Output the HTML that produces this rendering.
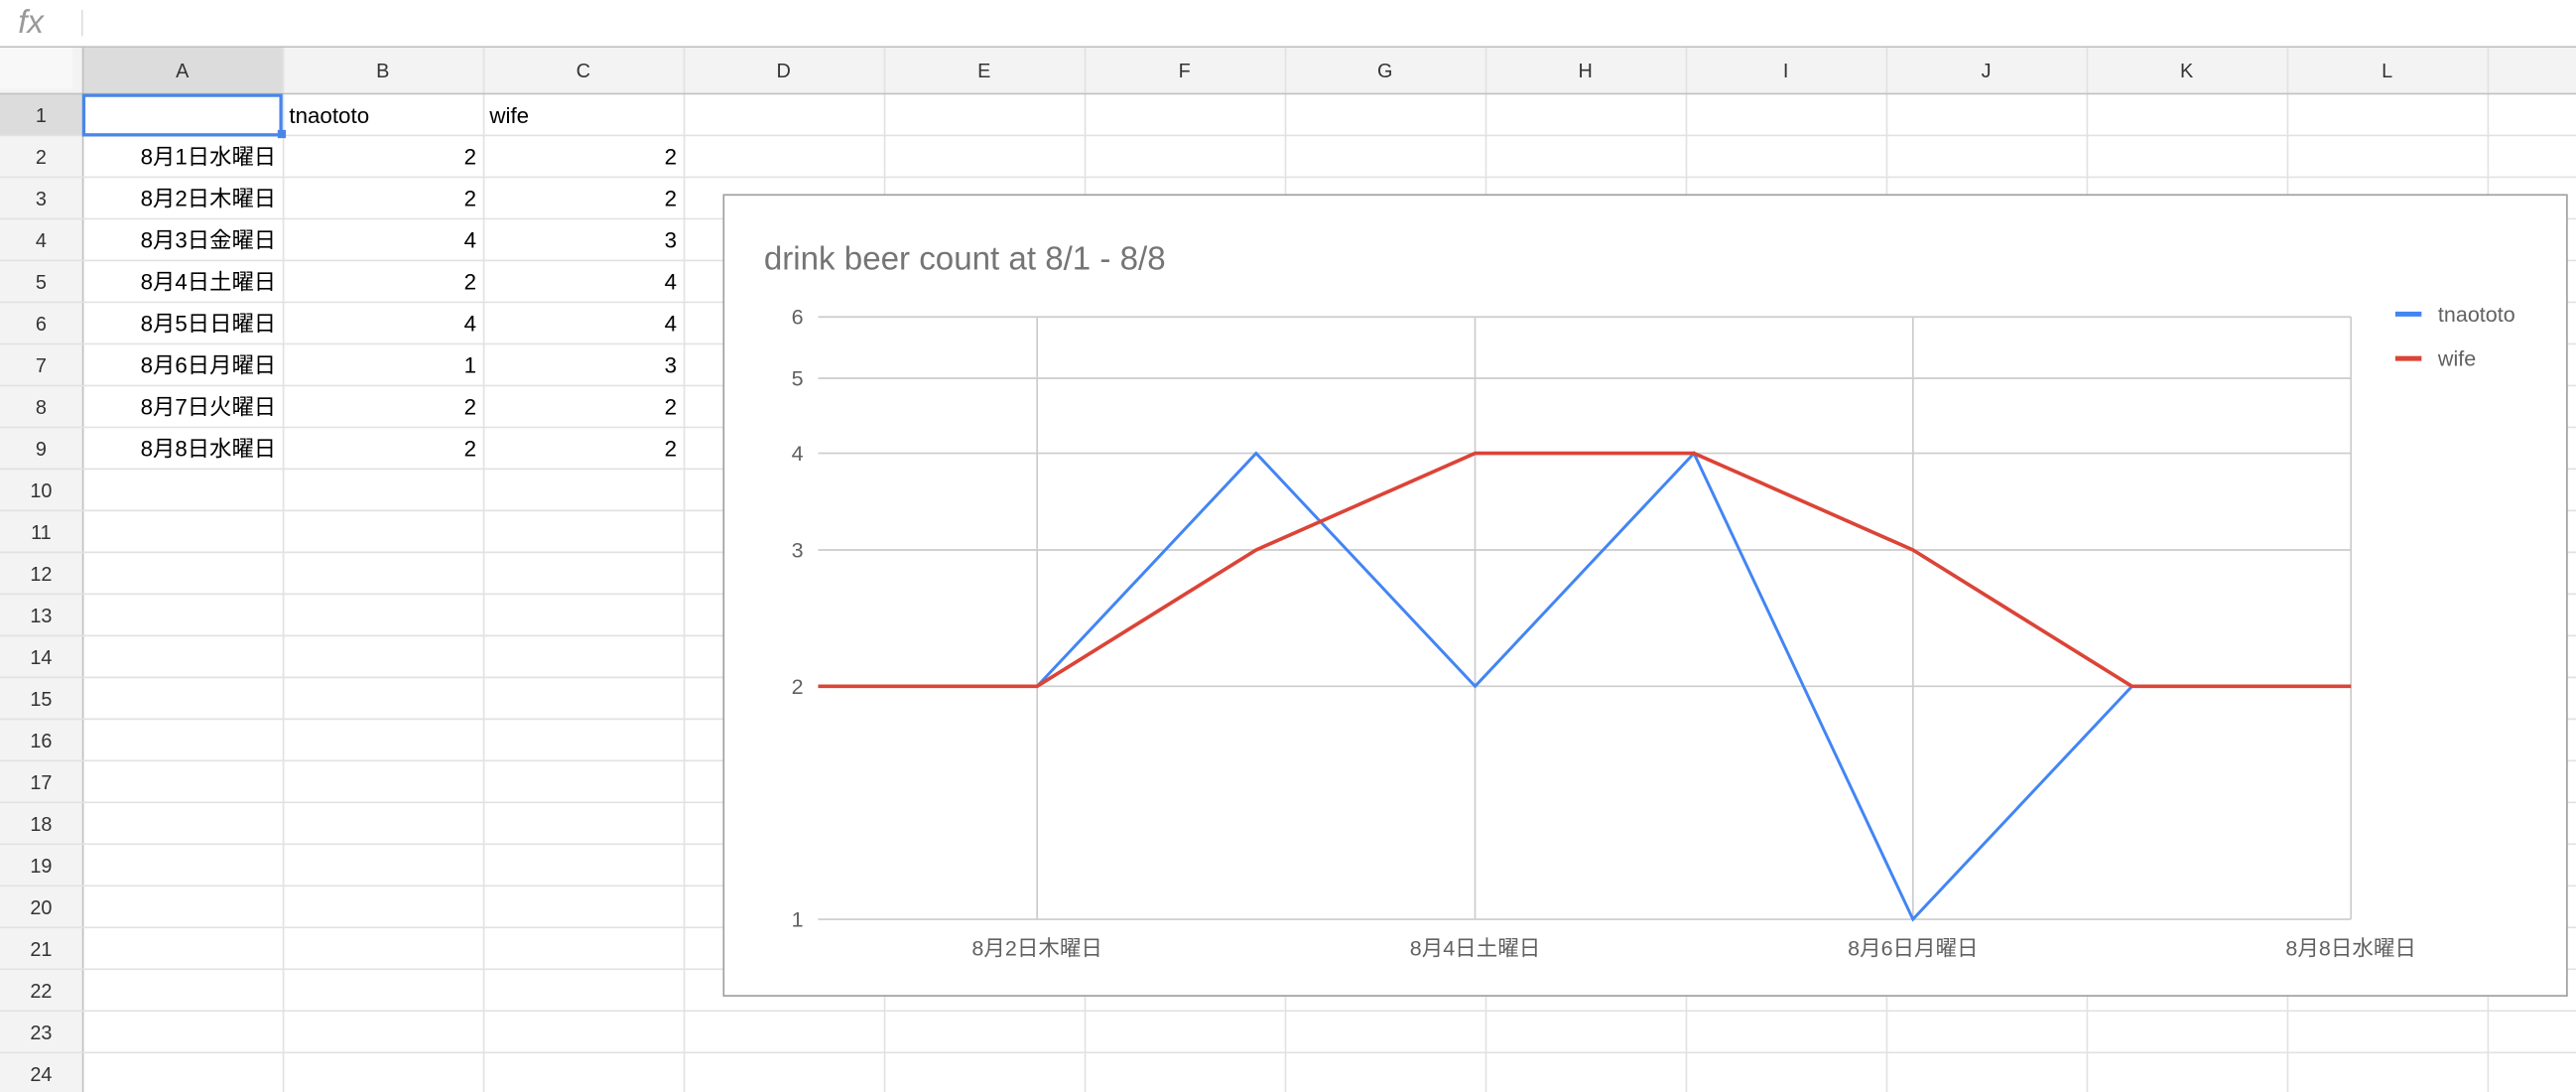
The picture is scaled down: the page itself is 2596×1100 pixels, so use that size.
<!DOCTYPE html>
<html><head><meta charset="utf-8">
<style>
html,body{margin:0;padding:0;background:#fff;width:2596px;height:1100px;overflow:hidden}
svg{display:block}
text{font-family:"Liberation Sans","Noto Sans CJK JP",sans-serif}
</style></head>
<body>
<svg id="s" width="2596" height="1100" viewBox="0 0 1568 664" preserveAspectRatio="none" xmlns="http://www.w3.org/2000/svg">
<g id="sheet"></g>
<g id="chart"></g>
</svg>
<script>
// ---- chart data ----
const categories=["8月1日水曜日","8月2日木曜日","8月3日金曜日","8月4日土曜日","8月5日日曜日","8月6日月曜日","8月7日火曜日","8月8日水曜日"];
const seriesNames=["tnaototo","wife"];
const tnaototo=[2,2,4,2,4,1,2,2];
const wife=[2,2,3,4,4,3,2,2];
const yTicks=[1,2,3,4,5,6];
const xLabelIdx=[1,3,5,7];

const NS="http://www.w3.org/2000/svg";
function mk(parent,tag,attrs,txt){const e=document.createElementNS(NS,tag);for(const k in attrs)e.setAttribute(k,attrs[k]);if(txt!==undefined)e.textContent=txt;parent.appendChild(e);return e;}
const sheet=document.getElementById('sheet');
const chart=document.getElementById('chart');

// formula bar
let t=mk(sheet,'text',{x:11,y:20,'font-size':20,fill:'#999','font-style':'italic','font-family':'Liberation Serif, serif'},'fx');


mk(sheet,'line',{x1:50,y1:6,x2:50,y2:22,stroke:'#ddd'});
let fb=mk(sheet,'rect',{x:56,y:2,width:1500,height:24,fill:'transparent'});


mk(sheet,'line',{x1:0,y1:28.5,x2:1568,y2:28.5,stroke:'#c0c0c0'});
// headers backgrounds
mk(sheet,'rect',{x:0,y:29,width:1568,height:28,fill:'#f3f3f3'});
mk(sheet,'rect',{x:0,y:57,width:50,height:607,fill:'#f3f3f3'});
mk(sheet,'rect',{x:50,y:29,width:122,height:28,fill:'#dcdcdc'});
mk(sheet,'rect',{x:0,y:57,width:50,height:25.35,fill:'#dcdcdc'});
mk(sheet,'rect',{x:0,y:29,width:44,height:25,fill:'#f8f8f8'});
const colX=[50,172,294,416,538,660,782,904,1026,1148,1270,1392,1514,1568];
const letters="ABCDEFGHIJKL";
for(let i=0;i<colX.length;i++){
  mk(sheet,'line',{x1:colX[i]+.5,y1:29,x2:colX[i]+.5,y2:664,stroke:i==0?'#c0c0c0':'#e2e2e2'});
  if(i<12){const h=mk(sheet,'text',{x:(colX[i]+colX[i+1])/2,y:47,'font-size':12,fill:'#333','text-anchor':'middle'},letters[i]);
  
  }
}
mk(sheet,'line',{x1:0,y1:57,x2:1568,y2:57,stroke:'#c0c0c0'});
const RH=25.35;
for(let r=1;r<=24;r++){
  const y=57+RH*r;
  mk(sheet,'line',{x1:0,y1:y,x2:1568,y2:y,stroke:'#e2e2e2'});
  const n=mk(sheet,'text',{x:25,y:y-RH/2+4.5,'font-size':12,fill:'#333','text-anchor':'middle'},String(r));
  
  
}
// cell data
function cell(x,y,s,anchor,name){const c=mk(sheet,'text',{x:x,y:y,'font-size':13.5,fill:'#000','text-anchor':anchor},s);

}
cell(176,75,'tnaototo','start','cell-b1');
cell(298,75,'wife','start','cell-c1');
for(let i=0;i<categories.length;i++){
  const y=57+RH*(i+1)+RH/2+5;
  cell(168,y,categories[i],'end','cell-a'+(i+2));
  cell(290,y,String(tnaototo[i]),'end','cell-b'+(i+2));
  cell(412,y,String(wife[i]),'end','cell-c'+(i+2));
}
let sel=mk(sheet,'rect',{x:51,y:58,width:120,height:24,fill:'none',stroke:'#4a86e8','stroke-width':2});


mk(sheet,'rect',{x:169,y:79,width:5,height:5,fill:'#4a86e8'});

// ---- chart ----
let box=mk(chart,'rect',{x:440.5,y:118.5,width:1122,height:487,fill:'#fff',stroke:'#9e9e9e','stroke-width':1});


let title=mk(chart,'text',{x:465,y:164,'font-size':20,fill:'#757575'},'drink beer count at 8/1 - 8/8');


const PL=498,PR=1431,Y1=559,PX=141.7;
const xs=i=>PL+(PR-PL)*i/(categories.length-1);
const ys=v=>Y1-Math.log2(v)*PX;
const grid=mk(chart,'g',{});


yTicks.forEach(v=>{
  mk(grid,'line',{x1:PL,x2:PR,y1:ys(v),y2:ys(v),stroke:'#cccccc','stroke-width':1});
  const l=mk(chart,'text',{x:489,y:ys(v)+4.5,'font-size':13,fill:'#616161','text-anchor':'end'},String(v));
  
  
});
xLabelIdx.forEach(i=>{
  mk(grid,'line',{x1:xs(i),x2:xs(i),y1:ys(6),y2:Y1,stroke:'#cccccc','stroke-width':1});
  const l=mk(chart,'text',{x:xs(i),y:581,'font-size':13,fill:'#616161','text-anchor':'middle'},categories[i]);
  
  
});
const cols=['#4285f4','#db4437'];
[tnaototo,wife].forEach((d,k)=>{
  const pts=d.map((v,i)=>xs(i).toFixed(1)+','+ys(v).toFixed(1)).join(' ');
  const p=mk(chart,'polyline',{points:pts,fill:'none',stroke:cols[k],'stroke-width':k?2.2:1.8,'stroke-linejoin':'miter'});
  
  
  const ly=191+k*27;
  const lg=mk(chart,'g',{});
  
  
  mk(lg,'line',{x1:1458,x2:1474,y1:ly,y2:ly,stroke:cols[k],'stroke-width':3});
  mk(lg,'text',{x:1484,y:ly+4.5,'font-size':13,fill:'#616161'},seriesNames[k]);
});
// bring wife under? keep order: blue drawn first, red on top as in reference
</script>
</body></html>
